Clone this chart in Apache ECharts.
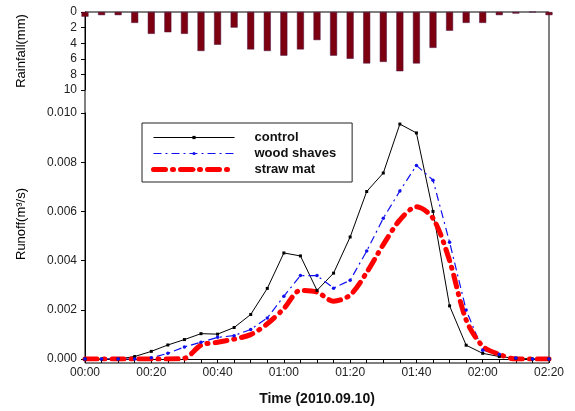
<!DOCTYPE html>
<html>
<head>
<meta charset="utf-8">
<script src="https://cdn.jsdelivr.net/npm/echarts@6/dist/echarts.min.js"></script>
<style>
  html, body { margin: 0; padding: 0; background: #fff; }
  #chart { width: 575px; height: 411px; }
</style>
</head>
<body>
<div id="chart"></div>
<script>
// time in minutes after 00:00, one reading every 5 min
var minutes = [0, 5, 10, 15, 20, 25, 30, 35, 40, 45, 50, 55, 60, 65, 70,
               75, 80, 85, 90, 95, 100, 105, 110, 115, 120, 125, 130, 135, 140];
var rainfall = [0.6, 0.4, 0.4, 1.4, 2.8, 2.6, 2.8, 5.0, 4.2, 2.0, 4.8, 5.0, 5.6, 4.8, 3.6,
                5.6, 6.0, 6.6, 6.4, 7.6, 6.6, 4.6, 2.4, 1.4, 1.4, 0.4, 0.2, 0, 0.4];
var control = [0, 0, 0, 0.0001, 0.00031, 0.00057, 0.00079, 0.00103, 0.00101, 0.00128, 0.00181, 0.00287, 0.00431, 0.00419, 0.00279,
               0.00349, 0.00496, 0.00681, 0.00756, 0.00955, 0.00919, 0.0060, 0.00216, 0.00056, 0.00023, 0.0001, 0.00003, 0, 0];
var woodShaves = [0, 0, 0, 0, 0.00005, 0.00023, 0.00049, 0.00068, 0.00088, 0.00095, 0.0012, 0.00167, 0.00255, 0.00339, 0.00339,
                  0.00288, 0.0032, 0.00439, 0.00572, 0.00683, 0.00787, 0.00727, 0.00475, 0.00199, 0.00036, 0.00019, 0.00004, 0, 0];
var strawMat = [0, 0, 0, 0, 0, 0, 0.00003, 0.00056, 0.00068, 0.00081, 0.00099, 0.00143, 0.00205, 0.00279, 0.00272,
                0.00235, 0.0026, 0.00352, 0.00465, 0.00565, 0.00619, 0.00572, 0.004, 0.00159, 0.00052, 0.00019, 0, 0, 0];

function pairs(vals) {
    return minutes.map(function (m, i) { return [m, vals[i]]; });
}
function hhmm(v) {
    var h = Math.floor(v / 60), m = v % 60;
    return (h < 10 ? '0' : '') + h + ':' + (m < 10 ? '0' : '') + m;
}

var font = 'Liberation Sans, Arial, sans-serif';
var blueDash = [8, 4, 2, 4];
var redDash = [12, 7, 1, 7];

var chart = echarts.init(document.getElementById('chart'));
chart.setOption({
    animation: false,
    textStyle: { fontFamily: font },
    grid: [
        { left: 85, top: 12, width: 464, height: 78 },
        { left: 85, top: 113, width: 464, height: 250 },
        // outer frame round both panels
        { left: 85, top: 12, width: 464, height: 351, show: true, borderColor: '#000', borderWidth: 1 }
    ],
    legend: {
        data: [
            { name: 'control', lineStyle: { width: 1 } },
            { name: 'wood shaves', lineStyle: { width: 1.2, type: blueDash } },
            { name: 'straw mat', lineStyle: { width: 5, type: redDash, cap: 'round' } }
        ],
        orient: 'vertical',
        left: 142,
        top: 123,
        itemWidth: 81,
        itemHeight: 4,
        itemGap: 1,
        padding: [7, 16, 5, 9],
        borderColor: '#222',
        borderWidth: 1,
        textStyle: { fontFamily: font, fontSize: 13, fontWeight: 'bold', color: '#111', padding: [0, 0, 0, 15], lineHeight: 15 }
    },
    xAxis: [
        { gridIndex: 0, type: 'value', min: 0, max: 140, show: false },
        {
            gridIndex: 1, type: 'value', min: 0, max: 140, interval: 20,
            axisLine: { lineStyle: { color: '#000' } },
            axisTick: { length: 4, lineStyle: { color: '#000' } },
            minorTick: { show: true, splitNumber: 4, length: 4, lineStyle: { color: '#000' } },
            splitLine: { show: false },
            axisLabel: { formatter: hhmm, fontSize: 12, color: '#222', margin: 8 },
            name: 'Time (2010.09.10)',
            nameLocation: 'middle',
            nameGap: 33,
            nameTextStyle: { fontSize: 14, fontWeight: 'bold', color: '#111' }
        },
        { gridIndex: 2, type: 'value', min: 0, max: 1, show: false }
    ],
    yAxis: [
        {
            gridIndex: 0, type: 'value', inverse: true, min: 0, max: 10, interval: 2,
            axisLine: { show: true, lineStyle: { color: '#000' } },
            axisTick: { show: true, length: 4, lineStyle: { color: '#000' } },
            splitLine: { show: false },
            axisLabel: { fontSize: 12, color: '#222', margin: 8 },
            name: 'Rainfall(mm)',
            nameLocation: 'middle',
            nameRotate: 90,
            nameGap: 57,
            nameTextStyle: { fontSize: 13, color: '#000' }
        },
        {
            gridIndex: 1, type: 'value', min: 0, max: 0.01, interval: 0.002,
            axisLine: { show: true, lineStyle: { color: '#000' } },
            axisTick: { show: true, length: 4, lineStyle: { color: '#000' } },
            splitLine: { show: false },
            axisLabel: { fontSize: 12, color: '#222', margin: 8, formatter: function (v) { return v.toFixed(3); } },
            name: 'Runoff(m³/s)',
            nameLocation: 'middle',
            nameRotate: 90,
            nameGap: 57,
            nameTextStyle: { fontSize: 13, color: '#000', padding: [0, 0, 0, 24] }
        },
        { gridIndex: 2, type: 'value', min: 0, max: 1, show: false }
    ],
    series: [
        {
            name: 'rainfall', type: 'bar', xAxisIndex: 0, yAxisIndex: 0,
            barWidth: 7,
            itemStyle: { color: '#7d0011', borderColor: '#4a1040', borderWidth: 0.5 },
            data: pairs(rainfall)
        },
        {
            name: 'control', type: 'line', xAxisIndex: 1, yAxisIndex: 1,
            symbol: 'rect', symbolSize: 3, showSymbol: true,
            lineStyle: { color: '#000', width: 1 },
            itemStyle: { color: '#000' },
            data: pairs(control)
        },
        {
            name: 'wood shaves', type: 'line', xAxisIndex: 1, yAxisIndex: 1,
            symbol: 'circle', symbolSize: 3.5,
            lineStyle: { color: '#1010f0', width: 1.2, type: blueDash },
            itemStyle: { color: '#1010f0' },
            data: pairs(woodShaves)
        },
        {
            name: 'straw mat', type: 'line', xAxisIndex: 1, yAxisIndex: 1,
            symbol: 'none', smooth: 0.3,
            lineStyle: { color: '#ff0000', width: 5, type: redDash, cap: 'round' },
            itemStyle: { color: '#ff0000' },
            data: pairs(strawMat)
        }
    ]
});
window.addEventListener('resize', function () {
    chart.resize();
});
</script>
</body>
</html>
